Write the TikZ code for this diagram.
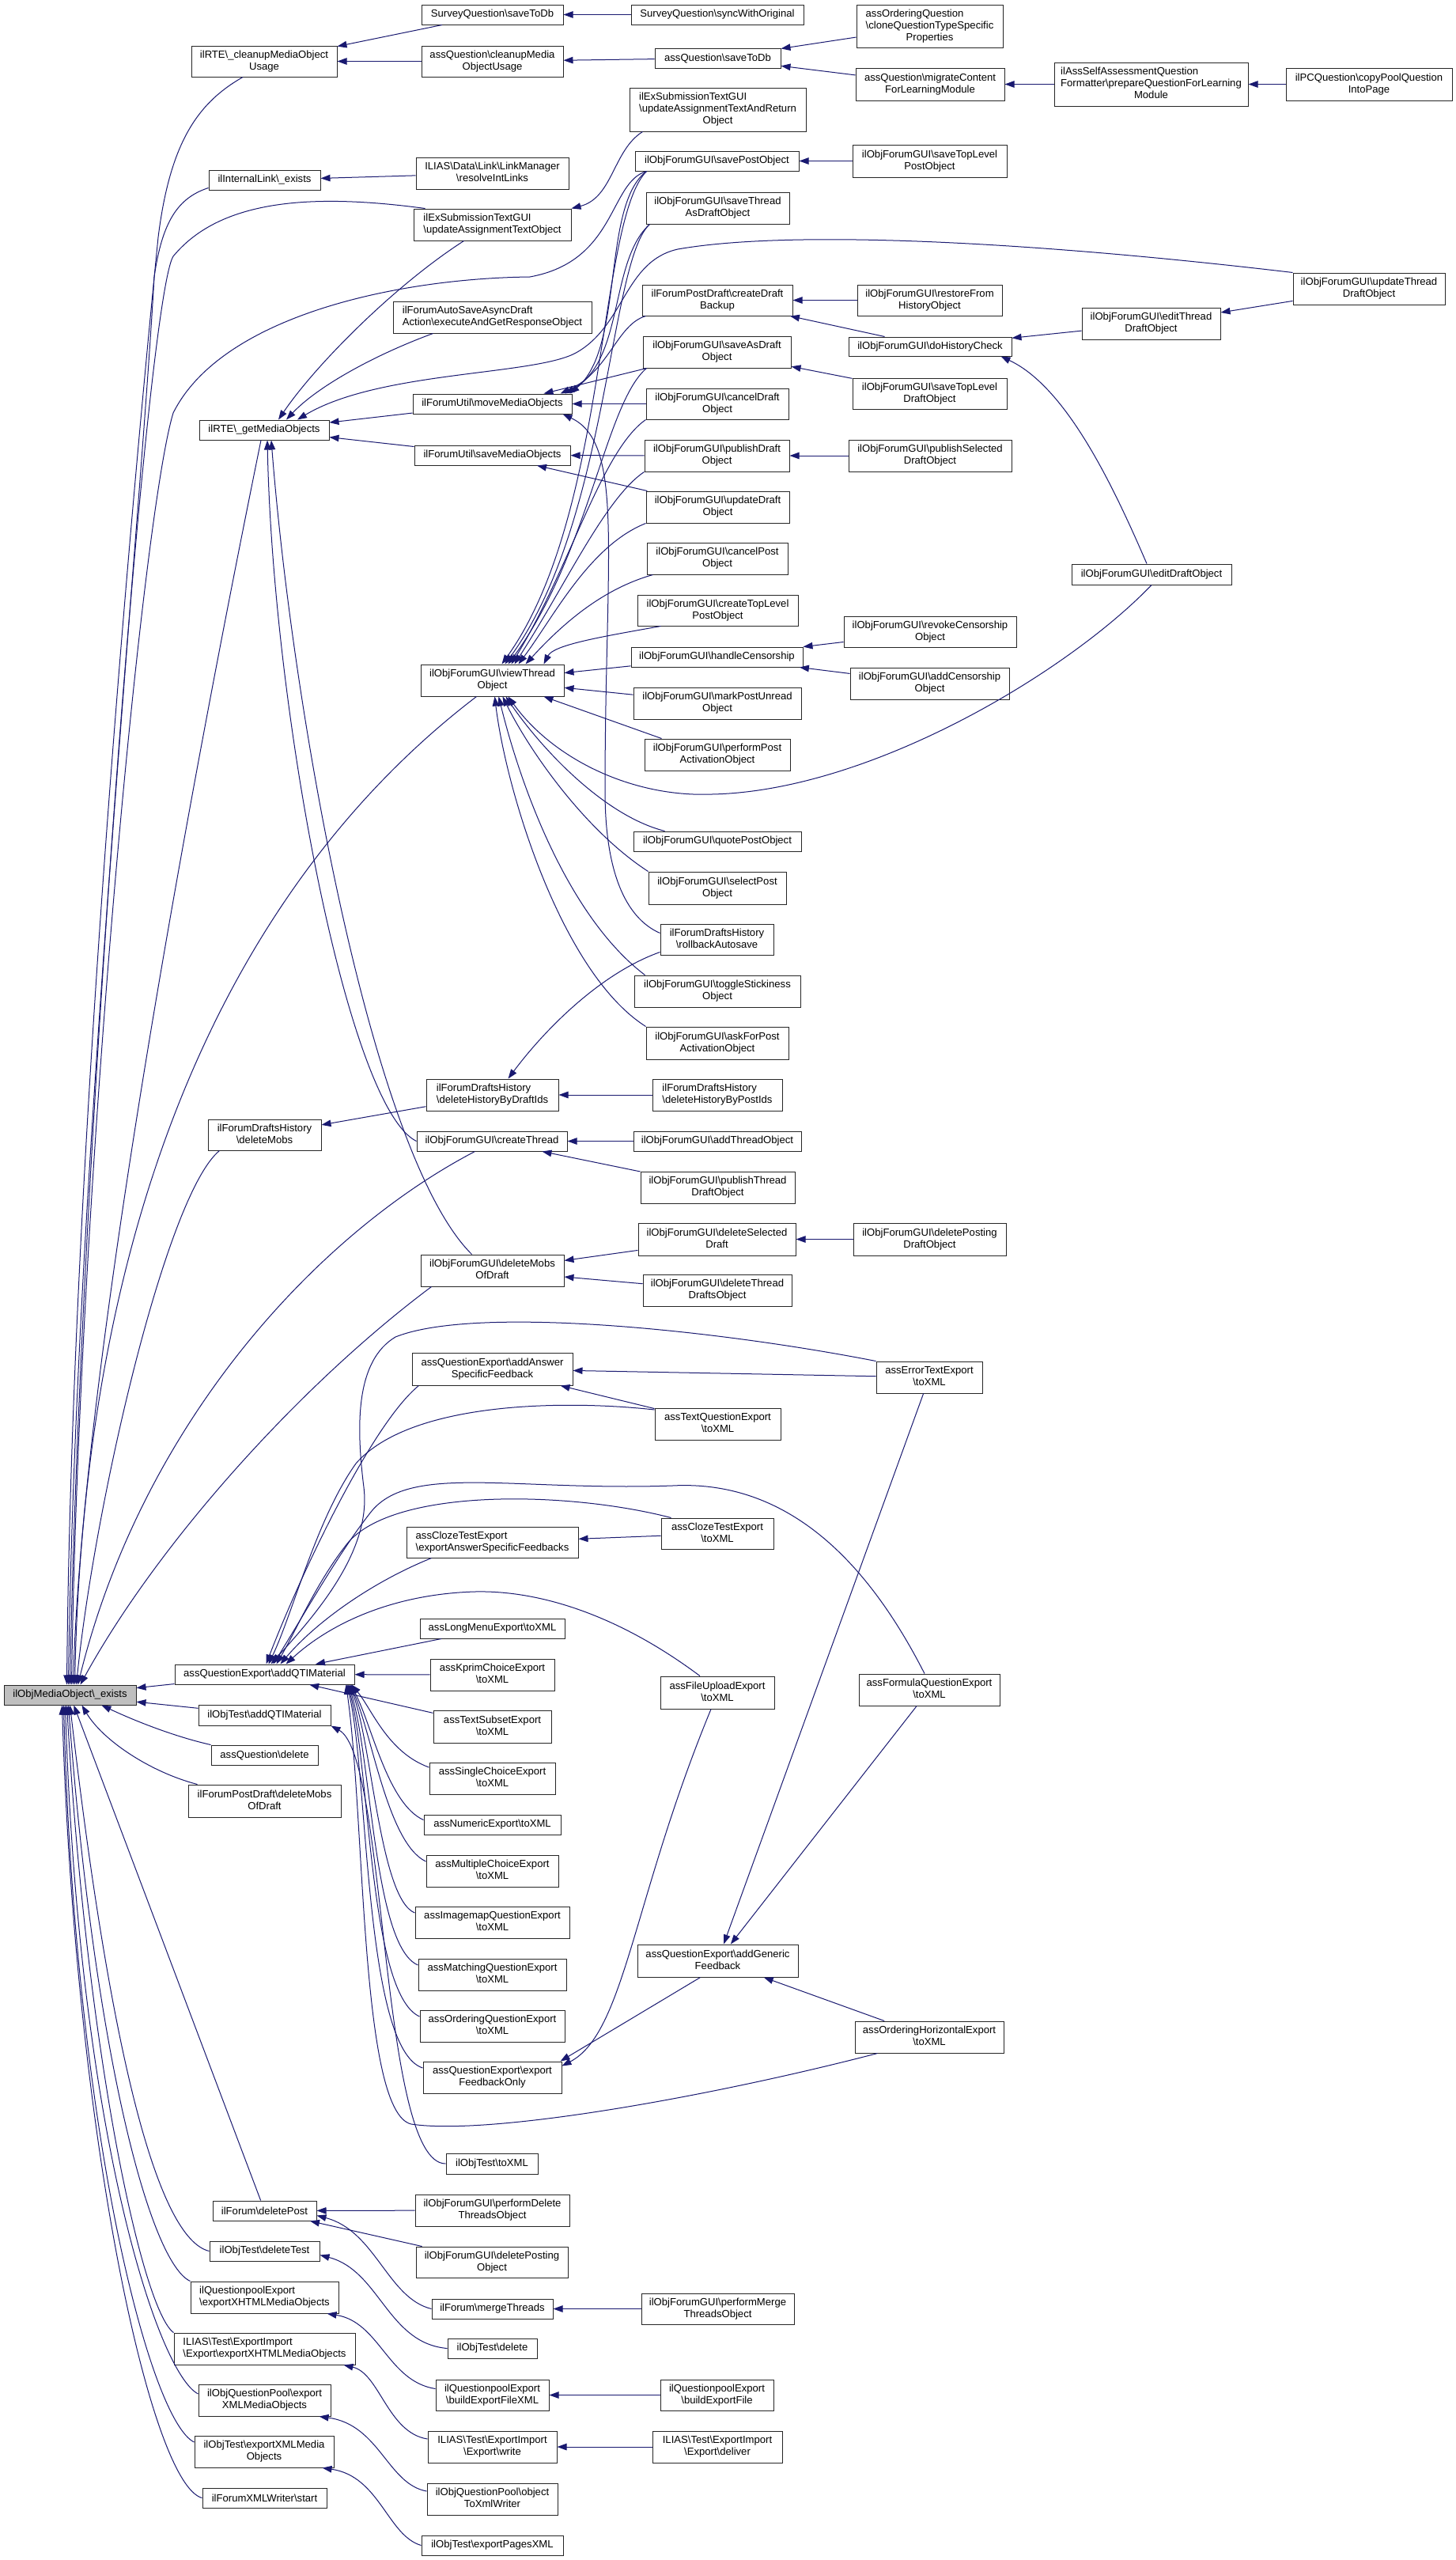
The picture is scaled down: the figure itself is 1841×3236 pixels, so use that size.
\documentclass[tikz,border=0pt]{standalone}
\usepackage{fontspec}
\setmainfont{Liberation Sans}
\usetikzlibrary{arrows.meta}
\definecolor{edgecol}{RGB}{25,25,112}
\definecolor{rootfill}{RGB}{191,191,191}
\newcommand\BS{\textbackslash}
\newcommand\twol[2]{\begin{tabular}{@{}l@{}}#1\\\multicolumn{1}{@{}c@{}}{#2}\end{tabular}}
\newcommand\threel[3]{\begin{tabular}{@{}l@{}}#1\\#2\\\multicolumn{1}{@{}c@{}}{#3}\end{tabular}}
\newcommand\mybox[7][]{\node[box,#1,minimum width={(#5)-(#3)},minimum height={(#6)-(#4)}] (#2) at ({((#3)+(#5))/2},{((#4)+(#6))/2}) {#7};}
\tikzset{
  box/.style={draw=black!85, line width=1pt, fill=white, inner sep=0pt, font=\fontsize{13.1}{15}\selectfont},
  cl/.style={draw=edgecol, line width=1pt, -{Triangle[length=12pt,width=8.5pt]}}
}
\begin{document}
\begin{tikzpicture}[x=1pt,y=-1pt]
\fill[white] (0,0) rectangle (1841,3236);
\useasboundingbox (0,0) rectangle (1841,3236);
% ---------------- nodes ----------------
\mybox{svsave}{533}{6}{712}{31}{SurveyQuestion\BS saveToDb}
\mybox{svsync}{798}{6}{1016}{31}{SurveyQuestion\BS syncWithOriginal}
\mybox{cleanup}{242}{58}{426}{97}{\twol{ilRTE\BS\_cleanupMediaObject}{Usage}}
\mybox{qcleanup}{533}{58}{712}{97}{\twol{assQuestion\BS cleanupMedia}{ObjectUsage}}
\mybox{qsave}{828}{61}{987}{86}{assQuestion\BS saveToDb}
\mybox{clone}{1083}{6}{1268}{60}{\threel{assOrderingQuestion}{\BS cloneQuestionTypeSpecific}{Properties}}
\mybox{migrate}{1082}{86}{1270}{127}{\twol{assQuestion\BS migrateContent}{ForLearningModule}}
\mybox{prepare}{1333}{79}{1578}{134}{\threel{ilAssSelfAssessmentQuestion}{Formatter\BS prepareQuestionForLearning}{Module}}
\mybox{copypool}{1626}{86}{1836}{127}{\twol{ilPCQuestion\BS copyPoolQuestion}{IntoPage}}
\mybox{intlink}{264}{215}{405}{240}{ilInternalLink\BS\_exists}
\mybox{linkmgr}{526}{199}{719}{239}{\twol{ILIAS\BS Data\BS Link\BS LinkManager}{\BS resolveIntLinks}}
\mybox{exupd}{523}{264}{722}{304}{\twol{ilExSubmissionTextGUI}{\BS updateAssignmentTextObject}}
\mybox{exret}{796}{111}{1019}{166}{\threel{ilExSubmissionTextGUI}{\BS updateAssignmentTextAndReturn}{Object}}
\mybox{savepost}{803}{191}{1010}{216}{ilObjForumGUI\BS savePostObject}
\mybox{stlpost}{1078}{183}{1273}{224}{\twol{ilObjForumGUI\BS saveTopLevel}{PostObject}}
\mybox{savethread}{817}{243}{998}{283}{\twol{ilObjForumGUI\BS saveThread}{AsDraftObject}}
\mybox{updthread}{1635}{345}{1827}{385}{\twol{ilObjForumGUI\BS updateThread}{DraftObject}}
\mybox{backup}{812}{360}{1002}{399}{\twol{ilForumPostDraft\BS createDraft}{Backup}}
\mybox{restore}{1084}{360}{1267}{399}{\twol{ilObjForumGUI\BS restoreFrom}{HistoryObject}}
\mybox{autosave}{497}{381}{748}{421}{\twol{ilForumAutoSaveAsyncDraft}{Action\BS executeAndGetResponseObject}}
\mybox{editthread}{1368}{389}{1543}{429}{\twol{ilObjForumGUI\BS editThread}{DraftObject}}
\mybox{histcheck}{1073}{426}{1279}{450}{ilObjForumGUI\BS doHistoryCheck}
\mybox{saveasdraft}{813}{425}{1000}{465}{\twol{ilObjForumGUI\BS saveAsDraft}{Object}}
\mybox{stldraft}{1078}{478}{1273}{517}{\twol{ilObjForumGUI\BS saveTopLevel}{DraftObject}}
\mybox{movemob}{522}{498}{723}{523}{ilForumUtil\BS moveMediaObjects}
\mybox{canceldraft}{817}{491}{997}{530}{\twol{ilObjForumGUI\BS cancelDraft}{Object}}
\mybox{getmob}{252}{531}{416}{556}{ilRTE\BS\_getMediaObjects}
\mybox{savemob}{524}{563}{721}{588}{ilForumUtil\BS saveMediaObjects}
\mybox{pubdraft}{815}{556}{998}{596}{\twol{ilObjForumGUI\BS publishDraft}{Object}}
\mybox{pubsel}{1073}{556}{1279}{596}{\twol{ilObjForumGUI\BS publishSelected}{DraftObject}}
\mybox{upddraft}{817}{621}{998}{661}{\twol{ilObjForumGUI\BS updateDraft}{Object}}
\mybox{cancelpost}{818}{686}{996}{726}{\twol{ilObjForumGUI\BS cancelPost}{Object}}
\mybox{editdraft}{1355}{713}{1557}{739}{ilObjForumGUI\BS editDraftObject}
\mybox{ctlpost}{806}{752}{1009}{791}{\twol{ilObjForumGUI\BS createTopLevel}{PostObject}}
\mybox{revoke}{1067}{779}{1285}{818}{\twol{ilObjForumGUI\BS revokeCensorship}{Object}}
\mybox{censor}{798}{818}{1015}{843}{ilObjForumGUI\BS handleCensorship}
\mybox{viewthread}{532}{840}{713}{880}{\twol{ilObjForumGUI\BS viewThread}{Object}}
\mybox{addcensor}{1075}{844}{1276}{884}{\twol{ilObjForumGUI\BS addCensorship}{Object}}
\mybox{markunread}{801}{869}{1013}{909}{\twol{ilObjForumGUI\BS markPostUnread}{Object}}
\mybox{perfact}{815}{934}{999}{974}{\twol{ilObjForumGUI\BS performPost}{ActivationObject}}
\mybox{quote}{801}{1051}{1013}{1076}{ilObjForumGUI\BS quotePostObject}
\mybox{selectpost}{820}{1102}{994}{1143}{\twol{ilObjForumGUI\BS selectPost}{Object}}
\mybox{rollback}{835}{1168}{978}{1207}{\twol{ilForumDraftsHistory}{\BS rollbackAutosave}}
\mybox{sticky}{802}{1233}{1012}{1273}{\twol{ilObjForumGUI\BS toggleStickiness}{Object}}
\mybox{askact}{817}{1298}{997}{1339}{\twol{ilObjForumGUI\BS askForPost}{ActivationObject}}
\mybox{delhistdraft}{539}{1364}{706}{1404}{\twol{ilForumDraftsHistory}{\BS deleteHistoryByDraftIds}}
\mybox{histpost}{825}{1364}{989}{1404}{\twol{ilForumDraftsHistory}{\BS deleteHistoryByPostIds}}
\mybox{dhmobs}{263}{1415}{406}{1454}{\twol{ilForumDraftsHistory}{\BS deleteMobs}}
\mybox{createthread}{527}{1430}{717}{1455}{ilObjForumGUI\BS createThread}
\mybox{addthread}{801}{1430}{1013}{1455}{ilObjForumGUI\BS addThreadObject}
\mybox{pubthread}{810}{1481}{1005}{1521}{\twol{ilObjForumGUI\BS publishThread}{DraftObject}}
\mybox{delseldraft}{807}{1546}{1006}{1587}{\twol{ilObjForumGUI\BS deleteSelected}{Draft}}
\mybox{delpostdraft}{1079}{1546}{1272}{1587}{\twol{ilObjForumGUI\BS deletePosting}{DraftObject}}
\mybox{fgdelmobs}{532}{1586}{713}{1626}{\twol{ilObjForumGUI\BS deleteMobs}{OfDraft}}
\mybox{delthreaddrafts}{813}{1611}{1001}{1651}{\twol{ilObjForumGUI\BS deleteThread}{DraftsObject}}
\mybox{addansw}{521}{1710}{724}{1751}{\twol{assQuestionExport\BS addAnswer}{SpecificFeedback}}
\mybox{errortext}{1108}{1721}{1242}{1761}{\twol{assErrorTextExport}{\BS toXML}}
\mybox{textq}{828}{1780}{987}{1820}{\twol{assTextQuestionExport}{\BS toXML}}
\mybox{clozetoxml}{836}{1919}{978}{1958}{\twol{assClozeTestExport}{\BS toXML}}
\mybox{clozeansw}{514}{1930}{731}{1969}{\twol{assClozeTestExport}{\BS exportAnswerSpecificFeedbacks}}
\mybox{longmenu}{531}{2046}{714}{2071}{assLongMenuExport\BS toXML}
\mybox{kprim}{544}{2097}{701}{2137}{\twol{assKprimChoiceExport}{\BS toXML}}
\mybox{qexpqti}{221}{2104}{448}{2129}{assQuestionExport\BS addQTIMaterial}
\mybox{fileupload}{835}{2119}{979}{2160}{\twol{assFileUploadExport}{\BS toXML}}
\mybox{formula}{1086}{2116}{1264}{2156}{\twol{assFormulaQuestionExport}{\BS toXML}}
\mybox[fill=rootfill]{root}{5}{2130}{172}{2155}{ilObjMediaObject\BS\_exists}
\mybox{testqti}{251}{2155}{418}{2181}{ilObjTest\BS addQTIMaterial}
\mybox{textsubset}{548}{2162}{697}{2203}{\twol{assTextSubsetExport}{\BS toXML}}
\mybox{qdelete}{267}{2206}{402}{2231}{assQuestion\BS delete}
\mybox{singlech}{543}{2228}{702}{2268}{\twol{assSingleChoiceExport}{\BS toXML}}
\mybox{pddmobs}{238}{2256}{431}{2297}{\twol{ilForumPostDraft\BS deleteMobs}{OfDraft}}
\mybox{numeric}{536}{2294}{709}{2319}{assNumericExport\BS toXML}
\mybox{multich}{539}{2345}{706}{2385}{\twol{assMultipleChoiceExport}{\BS toXML}}
\mybox{imagemap}{525}{2410}{720}{2450}{\twol{assImagemapQuestionExport}{\BS toXML}}
\mybox{generic}{806}{2458}{1009}{2499}{\twol{assQuestionExport\BS addGeneric}{Feedback}}
\mybox{matching}{529}{2476}{716}{2516}{\twol{assMatchingQuestionExport}{\BS toXML}}
\mybox{ordering}{531}{2541}{714}{2581}{\twol{assOrderingQuestionExport}{\BS toXML}}
\mybox{ordhoriz}{1081}{2555}{1269}{2595}{\twol{assOrderingHorizontalExport}{\BS toXML}}
\mybox{fbonly}{535}{2606}{710}{2646}{\twol{assQuestionExport\BS export}{FeedbackOnly}}
\mybox{testtoxml}{564}{2722}{680}{2748}{ilObjTest\BS toXML}
\mybox{perfdel}{525}{2774}{720}{2814}{\twol{ilObjForumGUI\BS performDelete}{ThreadsObject}}
\mybox{deletepost}{269}{2782}{400}{2807}{ilForum\BS deletePost}
\mybox{deletetest}{265}{2833}{404}{2858}{ilObjTest\BS deleteTest}
\mybox{delposting}{526}{2840}{718}{2879}{\twol{ilObjForumGUI\BS deletePosting}{Object}}
\mybox{qpxhtml}{241}{2884}{428}{2924}{\twol{ilQuestionpoolExport}{\BS exportXHTMLMediaObjects}}
\mybox{perfmerge}{811}{2899}{1004}{2938}{\twol{ilObjForumGUI\BS performMerge}{ThreadsObject}}
\mybox{merge}{546}{2906}{699}{2931}{ilForum\BS mergeThreads}
\mybox{exxhtml}{220}{2949}{449}{2989}{\twol{ILIAS\BS Test\BS ExportImport}{\BS Export\BS exportXHTMLMediaObjects}}
\mybox{testdel}{566}{2956}{679}{2981}{ilObjTest\BS delete}
\mybox{bfxml}{551}{3008}{694}{3047}{\twol{ilQuestionpoolExport}{\BS buildExportFileXML}}
\mybox{buildexp}{835}{3008}{978}{3047}{\twol{ilQuestionpoolExport}{\BS buildExportFile}}
\mybox{qpxmlmob}{251}{3014}{418}{3054}{\twol{ilObjQuestionPool\BS export}{XMLMediaObjects}}
\mybox{exwrite}{541}{3073}{704}{3113}{\twol{ILIAS\BS Test\BS ExportImport}{\BS Export\BS write}}
\mybox{deliver}{825}{3073}{989}{3113}{\twol{ILIAS\BS Test\BS ExportImport}{\BS Export\BS deliver}}
\mybox{testxmlmob}{246}{3079}{422}{3119}{\twol{ilObjTest\BS exportXMLMedia}{Objects}}
\mybox{qptoxml}{540}{3139}{705}{3179}{\twol{ilObjQuestionPool\BS object}{ToXmlWriter}}
\mybox{xmlwriter}{256}{3145}{413}{3170}{ilForumXMLWriter\BS start}
\mybox{pagesxml}{533}{3205}{712}{3230}{ilObjTest\BS exportPagesXML}
% ---------------- edges: top ----------------
\draw[cl] (svsync) -- (svsave);
\draw[cl] (svsave) -- (cleanup);
\draw[cl] (qcleanup) -- (cleanup);
\draw[cl] (qsave) -- (qcleanup);
\draw[cl] (clone) -- (qsave);
\draw[cl] (migrate) -- (qsave);
\draw[cl] (prepare) -- (migrate);
\draw[cl] (copypool) -- (prepare);
\draw[cl] (linkmgr) -- (intlink);
\draw[cl] ([xshift=17pt]exret.south west) .. controls (775,190) and (775,250) .. (exupd.north east);
\draw[cl] (stlpost) -- (savepost);
\draw[cl] (restore) -- (backup);
\draw[cl] (histcheck) -- (backup);
\draw[cl] (stldraft) -- (saveasdraft);
\draw[cl] (pubsel) -- (pubdraft);
\draw[cl] (editthread) -- (histcheck);
\draw[cl] (updthread) -- (editthread);
\draw[cl] ([xshift=-6pt]editdraft.north) .. controls (1410,620) and (1350,490) .. ([xshift=-14pt]histcheck.south east);
\draw[cl] (revoke) -- (censor);
\draw[cl] (addcensor) -- (censor);
\draw[cl] (histpost) -- (delhistdraft);
\draw[cl] (delhistdraft) -- (dhmobs);
\draw[cl] (addthread) -- (createthread);
\draw[cl] (pubthread) -- (createthread);
\draw[cl] (delseldraft) -- (fgdelmobs);
\draw[cl] (delthreaddrafts) -- (fgdelmobs);
\draw[cl] (delpostdraft) -- (delseldraft);
% getMediaObjects
\draw[cl] (movemob) -- (getmob);
\draw[cl] (savemob) -- (getmob);
\draw[cl] ([xshift=64pt]exupd.south west) .. controls (500,360) and (400,460) .. ([xshift=18pt]getmob.north);
\draw[cl] ([xshift=51pt]autosave.south west) .. controls (470,450) and (400,490) .. ([xshift=28pt]getmob.north);
\draw[cl] (updthread.north west) .. controls (1300,305) and (1000,290) .. (857,315) .. controls (790,330) and (790,410) .. (730,445) .. controls (680,475) and (480,468) .. ([xshift=42pt]getmob.north);
\draw[cl] (createthread.west) .. controls (440,1400) and (345,900) .. ([xshift=4pt]getmob.south);
\draw[cl] ([xshift=65pt]fgdelmobs.north west) .. controls (470,1460) and (370,900) .. ([xshift=9pt]getmob.south);
% viewThreadObject
\draw[cl] ([xshift=15pt]savepost.south west) .. controls (755,280) and (770,650) .. ([xshift=12pt]viewthread.north);
\draw[cl] ([xshift=5pt]savethread.south west) .. controls (770,330) and (770,660) .. ([xshift=16pt]viewthread.north);
\draw[cl] ([xshift=5pt]saveasdraft.south west) .. controls (765,510) and (745,700) .. ([xshift=20pt]viewthread.north);
\draw[cl] (canceldraft.south west) .. controls (760,570) and (720,720) .. ([xshift=24pt]viewthread.north);
\draw[cl] (pubdraft.south west) .. controls (765,630) and (715,740) .. ([xshift=28pt]viewthread.north);
\draw[cl] (upddraft.south west) .. controls (745,690) and (700,780) .. ([xshift=33pt]viewthread.north);
\draw[cl] ([xshift=8pt]cancelpost.south west) .. controls (760,745) and (710,790) .. ([xshift=42pt]viewthread.north);
\draw[cl] ([xshift=30pt]ctlpost.south west) .. controls (760,805) and (700,815) .. ([xshift=65pt]viewthread.north);
\draw[cl] (censor) -- (viewthread);
\draw[cl] (markunread) -- (viewthread);
\draw[cl] ([xshift=22pt]perfact.north west) -- ([xshift=65pt]viewthread.south);
\draw[cl] (editdraft.south) .. controls (1350,850) and (1100,1000) .. (900,1004) .. controls (800,1008) and (700,960) .. ([xshift=20pt]viewthread.south);
\draw[cl] ([xshift=40pt]quote.north west) .. controls (760,1030) and (680,940) .. ([xshift=17pt]viewthread.south);
\draw[cl] (selectpost.north west) .. controls (740,1050) and (670,950) .. ([xshift=13pt]viewthread.south);
\draw[cl] ([xshift=14pt]sticky.north west) .. controls (720,1160) and (660,1000) .. ([xshift=8pt]viewthread.south);
\draw[cl] (askact.north west) .. controls (710,1230) and (640,1000) .. ([xshift=3pt]viewthread.south);
% moveMediaObjects / saveMediaObjects
\draw[cl] ([xshift=15pt]savepost.south west) .. controls (760,260) and (790,440) .. ([xshift=-3pt]movemob.north east);
\draw[cl] ([xshift=5pt]savethread.south west) .. controls (770,330) and (790,455) .. ([xshift=-9pt]movemob.north east);
\draw[cl] ([xshift=5pt]backup.south west) .. controls (780,410) and (770,470) .. ([xshift=-15pt]movemob.north east);
\draw[cl] ([xshift=5pt]saveasdraft.south west) -- ([xshift=-36pt]movemob.north east);
\draw[cl] (canceldraft) -- (movemob);
\draw[cl] ([yshift=8pt]rollback.west) .. controls (790,1160) and (765,1100) .. (765,1000) .. controls (765,700) and (790,560) .. ([xshift=-12pt]movemob.south east);
\draw[cl] (pubdraft) -- (savemob);
\draw[cl] (upddraft) -- (savemob);
\draw[cl] ([yshift=-16pt]rollback.west) .. controls (760,1230) and (690,1300) .. ([xshift=20pt]delhistdraft.north);
% into the root from above
\draw[cl] ([xshift=-27pt]cleanup.south) .. controls (250,130) and (215,180) .. (200,300) .. controls (160,700) and (90,1500) .. ([xshift=-4pt]root.north);
\draw[cl] ([yshift=-10pt]intlink.west) .. controls (225,250) and (205,280) .. (195,350) .. controls (175,700) and (95,1500) .. ([xshift=-2pt]root.north);
\draw[cl] ([xshift=15pt]exupd.north west) .. controls (400,245) and (280,250) .. (219,324) .. controls (185,380) and (100,1500) .. (root.north);
\draw[cl] ([xshift=15pt]savepost.south west) .. controls (770,230) and (780,330) .. (670,350) .. controls (500,352) and (280,400) .. (219,522) .. controls (180,650) and (100,1500) .. ([xshift=2pt]root.north);
\draw[cl] ([xshift=-4pt]getmob.south) .. controls (260,900) and (105,1700) .. ([xshift=4pt]root.north);
\draw[cl] ([xshift=-20pt]viewthread.south) .. controls (380,1050) and (110,1400) .. ([xshift=6pt]root.north);
\draw[cl] ([xshift=15pt]dhmobs.south west) .. controls (210,1510) and (120,1900) .. ([xshift=8pt]root.north);
\draw[cl] ([xshift=74pt]createthread.south west) .. controls (400,1560) and (180,1800) .. ([xshift=10pt]root.north);
\draw[cl] ([xshift=14pt]fgdelmobs.south west) .. controls (380,1750) and (200,1950) .. ([xshift=13pt]root.north);
% into the root from right and below
\draw[cl] (qexpqti) -- (root);
\draw[cl] (testqti) -- (root);
\draw[cl] (qdelete.north west) .. controls (220,2195) and (170,2175) .. ([xshift=40pt]root.south);
\draw[cl] ([xshift=12pt]pddmobs.north west) .. controls (190,2240) and (130,2200) .. ([xshift=15pt]root.south);
\draw[cl] (deletepost) -- (root);
\draw[cl] (deletetest.west) .. controls (200,2830) and (140,2600) .. (root.south);
\draw[cl] (qpxhtml.north west) .. controls (190,2860) and (120,2600) .. ([xshift=-2pt]root.south);
\draw[cl] (exxhtml.north west) .. controls (180,2920) and (110,2600) .. ([xshift=-4pt]root.south);
\draw[cl] ([yshift=8pt]qpxmlmob.west) .. controls (200,3000) and (100,2700) .. ([xshift=-6pt]root.south);
\draw[cl] ([yshift=12pt]testxmlmob.west) .. controls (190,3060) and (95,2700) .. ([xshift=-8pt]root.south);
\draw[cl] (xmlwriter.west) .. controls (190,3140) and (95,2700) .. ([xshift=-10pt]root.south);
% lower forum / test / pool
\draw[cl] (perfdel) -- (deletepost);
\draw[cl] (delposting) -- (deletepost);
\draw[cl] (merge.west) .. controls (490,2905) and (475,2820) .. ([yshift=-6pt]deletepost.east);
\draw[cl] (perfmerge) -- (merge);
\draw[cl] (testdel.west) .. controls (490,2962) and (480,2870) .. ([yshift=-5pt]deletetest.east);
\draw[cl] ([yshift=8pt]bfxml.west) .. controls (490,3010) and (480,2935) .. ([xshift=-15pt]qpxhtml.south east);
\draw[cl] (buildexp) -- (bfxml);
\draw[cl] ([yshift=10pt]exwrite.west) .. controls (490,3075) and (480,3000) .. ([xshift=-15pt]exxhtml.south east);
\draw[cl] (deliver) -- (exwrite);
\draw[cl] ([yshift=10pt]qptoxml.west) .. controls (490,3140) and (480,3065) .. ([xshift=-15pt]qpxmlmob.south east);
\draw[cl] (pagesxml.west) .. controls (490,3205) and (480,3130) .. ([xshift=-15pt]testxmlmob.south east);
% question export
\draw[cl] (errortext) -- (addansw);
\draw[cl] (textq) -- (addansw);
\draw[cl] (clozetoxml) -- (clozeansw);
\draw[cl] (errortext) -- (generic);
\draw[cl] (formula) -- (generic);
\draw[cl] (ordhoriz) -- (generic);
\draw[cl] ([xshift=-22pt]generic.south) -- ([xshift=-2pt]fbonly.north east);
\draw[cl] ([xshift=-8pt]fileupload.south) .. controls (800,2400) and (790,2570) .. ([yshift=-6pt]fbonly.north east);
\draw[cl] ([xshift=9pt]addansw.south west) .. controls (470,1800) and (380,1990) .. ([xshift=2pt]qexpqti.north);
\draw[cl] (errortext.north west) .. controls (900,1680) and (600,1650) .. (500,1690) .. controls (450,1720) and (450,1800) .. (460,1880) .. controls (470,1960) and (400,2040) .. ([xshift=8pt]qexpqti.north);
\draw[cl] ([yshift=18pt]textq.west) .. controls (720,1770) and (520,1770) .. (450,1850) .. controls (400,1920) and (370,2040) .. ([xshift=5pt]qexpqti.north);
\draw[cl] ([xshift=-6pt]formula.north) .. controls (1100,1980) and (1000,1870) .. (850,1878) .. controls (650,1885) and (520,1850) .. (470,1910) .. controls (430,1960) and (385,2040) .. ([xshift=11pt]qexpqti.north);
\draw[cl] ([xshift=13pt]clozetoxml.north west) .. controls (720,1885) and (500,1880) .. (440,1950) .. controls (400,2000) and (375,2060) .. ([xshift=15pt]qexpqti.north);
\draw[cl] ([xshift=32pt]clozeansw.south west) .. controls (470,2000) and (400,2050) .. ([xshift=20pt]qexpqti.north);
\draw[cl] ([xshift=-22pt]fileupload.north) .. controls (780,2040) and (680,2010) .. (600,2012) .. controls (500,2015) and (420,2050) .. ([xshift=27pt]qexpqti.north);
\draw[cl] (longmenu) -- (qexpqti);
\draw[cl] (kprim) -- (qexpqti);
\draw[cl] (textsubset) -- (qexpqti);
\draw[cl] ([yshift=14pt]singlech.west) .. controls (490,2215) and (470,2160) .. ([xshift=-4pt]qexpqti.south east);
\draw[cl] ([yshift=6pt]numeric.west) .. controls (490,2280) and (470,2180) .. ([xshift=-5pt]qexpqti.south east);
\draw[cl] ([yshift=12pt]multich.west) .. controls (490,2330) and (470,2190) .. ([xshift=-6pt]qexpqti.south east);
\draw[cl] ([yshift=12pt]imagemap.west) .. controls (480,2400) and (470,2200) .. ([xshift=-7pt]qexpqti.south east);
\draw[cl] ([yshift=12pt]matching.west) .. controls (472,2460) and (470,2220) .. ([xshift=-8pt]qexpqti.south east);
\draw[cl] ([yshift=12pt]ordering.west) .. controls (466,2520) and (468,2230) .. ([xshift=-9pt]qexpqti.south east);
\draw[cl] ([yshift=12pt]fbonly.west) .. controls (460,2590) and (466,2240) .. ([xshift=-10pt]qexpqti.south east);
\draw[cl] ([xshift=29pt]ordhoriz.south west) .. controls (900,2650) and (620,2700) .. (520,2685) .. controls (455,2670) and (462,2300) .. ([xshift=-11pt]qexpqti.south east);
\draw[cl] (testtoxml.west) .. controls (480,2735) and (490,2220) .. (testqti.south east);
\end{tikzpicture}
\end{document}
